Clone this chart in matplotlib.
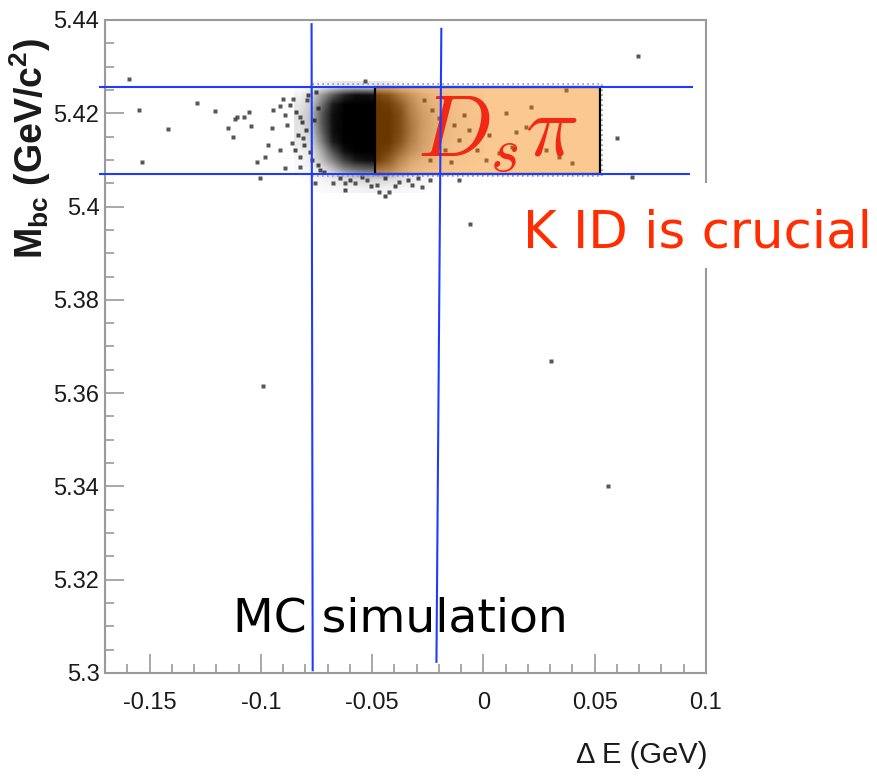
import matplotlib
matplotlib.use("Agg")
import matplotlib.pyplot as plt
import numpy as np
from matplotlib import font_manager
from matplotlib.patches import Rectangle

# tick values and labels (ROOT style, no trailing zeros)
xticks = [-0.15, -0.1, -0.05, 0.0, 0.05, 0.1]
xtick_labels = ["-0.15", "-0.1", "-0.05", "0", "0.05", "0.1"]
yticks = [5.30, 5.32, 5.34, 5.36, 5.38, 5.40, 5.42, 5.44]
ytick_labels = ["5.3", "5.32", "5.34", "5.36", "5.38", "5.4", "5.42", "5.44"]

# isolated candidates (dE, Mbc)
out_de = [-0.1592, -0.1548, -0.1287, -0.1207, -0.1417, -0.1148, -0.1117, -0.1108,
          -0.1077, -0.1054, -0.1126, -0.1045, -0.1534, -0.1018, -0.0982, -0.0969,
          -0.1005, -0.0902, -0.0857, -0.0947, -0.0915, -0.0893, -0.0951, -0.0884,
          -0.0825, -0.0915, -0.0861, -0.0825, -0.0893, -0.0825, -0.0812, -0.0794,
          -0.0677, -0.0624, -0.0579, -0.0525, -0.0467, -0.0422, -0.0377, -0.0319,
          -0.0278, -0.0242, -0.0108, -0.0758, -0.0476, -0.0534, 0.0601, 0.0668,
          0.0148, 0.0215, 0.0103, 0.0193, 0.0282, 0.0341, 0.0072, 0.0013,
          0.0130, 0.0372, 0.0399, 0.0695, -0.0059, 0.0305, 0.0560, -0.0991]
out_mbc = [5.4274, 5.4207, 5.4222, 5.4205, 5.4166, 5.4168, 5.4188, 5.4192,
           5.4192, 5.4203, 5.4149, 5.4173, 5.4096, 5.4096, 5.4106, 5.4132,
           5.4061, 5.4231, 5.4231, 5.4207, 5.4216, 5.4196, 5.4168, 5.4175,
           5.4192, 5.4121, 5.4136, 5.4106, 5.4083, 5.4085, 5.4147, 5.4228,
           5.4051, 5.4051, 5.4051, 5.4057, 5.4031, 5.4031, 5.4053, 5.4046,
           5.4042, 5.4057, 5.4057, 5.4051, 5.4046, 5.4269, 5.4147, 5.4063,
           5.4160, 5.4213, 5.4201, 5.4171, 5.4121, 5.4106, 5.4115, 5.4100,
           5.4128, 5.4250, 5.4093, 5.4323, 5.3963, 5.3669, 5.3401, 5.3615]

# candidates on the rim of the peak
rim_de = [-0.0870, -0.0843, -0.0816, -0.0799, -0.0834, -0.0807, -0.0781, -0.0848,
          -0.0772, -0.0745, -0.0790, -0.0754, -0.0736, -0.0718, -0.0763, -0.0745,
          -0.0265, -0.0233, -0.0198, -0.0162, -0.0130, -0.0206, -0.0171, -0.0108,
          -0.0085, -0.0242, -0.0144, -0.0063, -0.0027, 0.0004, 0.0027,
          -0.0646, -0.0601, -0.0547, -0.0503, -0.0444, -0.0399, -0.0341, -0.0296,
          -0.0624, -0.0444]
rim_mbc = [5.4218, 5.4203, 5.4181, 5.4164, 5.4153, 5.4132, 5.4117, 5.4121,
           5.4100, 5.4089, 5.4239, 5.4246, 5.4078, 5.4074, 5.4186, 5.4211,
           5.4228, 5.4207, 5.4190, 5.4218, 5.4175, 5.4143, 5.4121, 5.4143,
           5.4196, 5.4100, 5.4096, 5.4164, 5.4121, 5.4207, 5.4153,
           5.4061, 5.4057, 5.4063, 5.4044, 5.4061, 5.4044, 5.4057, 5.4061,
           5.4036, 5.4023]

# occupancy of the signal peak, rows from Mbc=5.404 up to 5.426 (step 0.002),
# columns from dE=-0.0825 to -0.0025 (step 0.005)
peak_extent = [-0.085, 0.0, 5.403, 5.427]
peak = [
    [0, 0, .02, .03, .04, .05, .06, .06, .05, .04, .03, .02, 0, 0, 0, 0, 0],
    [0, .03, .05, .08, .12, .15, .18, .18, .15, .12, .08, .05, .03, 0, 0, 0, 0],
    [.02, .05, .10, .25, .45, .55, .60, .60, .50, .30, .15, .10, .06, .03, .02, .01, 0],
    [.03, .08, .25, .50, .75, .90, .95, .95, .75, .45, .25, .15, .10, .05, .03, .02, .01],
    [.05, .10, .35, .70, .95, 1, 1, 1, .90, .65, .40, .25, .15, .08, .05, .03, .02],
    [.08, .15, .50, .90, 1, 1, 1, 1, 1, .80, .50, .30, .18, .10, .06, .04, .02],
    [.10, .20, .60, .95, 1, 1, 1, 1, 1, .85, .55, .30, .20, .12, .07, .05, .03],
    [.12, .25, .65, .95, 1, 1, 1, 1, 1, .85, .55, .32, .20, .12, .07, .05, .03],
    [.12, .25, .65, .95, 1, 1, 1, 1, 1, .85, .50, .30, .18, .10, .07, .04, .02],
    [.10, .20, .55, .90, 1, 1, 1, 1, .95, .75, .45, .25, .15, .10, .06, .04, .02],
    [.05, .15, .40, .65, .85, .95, .95, .90, .80, .55, .35, .20, .12, .08, .05, .03, .02],
    [0, .02, .05, .08, .10, .10, .10, .10, .08, .05, .03, .02, .01, 0, 0, 0, 0],
]

# D_s pi signal box and the cut lines
box_de = (-0.0489, 0.0525)
box_mbc = (5.4070, 5.4256)
cut_box_de = (-0.0768, 0.0535)
cut_box_mbc = (5.4065, 5.4263)
vcut_top = [(-0.0772, 5.4391), (-0.0189, 5.4381)]
vcut_bot = [(-0.0767, 5.3006), (-0.0211, 5.3024)]
hcut_y = [5.4256, 5.4070]
hcut_x = [(-0.1722, 0.0937), (-0.1722, 0.0924)]

names = {f.name for f in font_manager.fontManager.ttflist}
narrow = "Liberation Sans Narrow" if "Liberation Sans Narrow" in names else "Liberation Sans"

plt.rcParams["mathtext.fontset"] = "custom"
plt.rcParams["mathtext.rm"] = "Liberation Sans:bold"
plt.rcParams["mathtext.it"] = "Liberation Sans:bold"

fig = plt.figure(figsize=(8.78, 7.80), dpi=100)
ax = fig.add_axes([0.1196, 0.1372, 0.6845, 0.8372])

rgba = np.zeros((len(peak), len(peak[0]), 4))
rgba[..., 3] = np.array(peak)
ax.imshow(rgba, extent=peak_extent, origin="lower", aspect="auto",
          interpolation="bilinear", zorder=1)
ax.plot(out_de, out_mbc, "s", ms=2.2, color="#3a3a3a", alpha=0.85, mec="none", zorder=2)
ax.plot(rim_de, rim_mbc, "s", ms=2.4, color="#222222", alpha=0.8, mec="none", zorder=2)

# orange signal window over the points, outline on top
ax.add_patch(Rectangle((box_de[0], box_mbc[0]), box_de[1] - box_de[0], box_mbc[1] - box_mbc[0],
                       facecolor=(0.97, 0.50, 0.0), alpha=0.43, edgecolor="none", zorder=3))
ax.add_patch(Rectangle((cut_box_de[0], cut_box_mbc[0]), cut_box_de[1] - cut_box_de[0],
                       cut_box_mbc[1] - cut_box_mbc[0], fill=False, edgecolor="#9a9a9a",
                       linestyle=(0, (1, 2)), lw=1.2, zorder=3))
ax.add_patch(Rectangle((box_de[0], box_mbc[0]), box_de[1] - box_de[0], box_mbc[1] - box_mbc[0],
                       fill=False, edgecolor="black", lw=1.6, zorder=4))

blue = "#1e3cff"
for (xt, yt), (xb, yb) in zip(vcut_top, vcut_bot):
    ax.plot([xt, xb], [yt, yb], color=blue, lw=1.5, clip_on=False, zorder=6)
for y, (x0, x1) in zip(hcut_y, hcut_x):
    ax.plot([x0, x1], [y, y], color=blue, lw=1.5, clip_on=False, zorder=6)

ax.text(-0.0300, 5.4106, r"$D_s\pi$", color="#f02814", fontsize=64,
        math_fontfamily="cm", ha="left", va="baseline", zorder=5)
ax.text(0.213, 0.0628, "MC simulation", transform=ax.transAxes, fontsize=34,
        color="black", ha="left", va="baseline", zorder=5)

ax.set_xlim(-0.17, 0.1)
ax.set_ylim(5.3, 5.44)
ax.set_xticks(xticks)
ax.set_xticklabels(xtick_labels)
ax.set_yticks(yticks)
ax.set_yticklabels(ytick_labels)
ax.set_xticks(np.arange(-0.16, 0.1, 0.01), minor=True)
ax.set_yticks(np.arange(5.30, 5.44, 0.005), minor=True)

grey = "#9a9a9a"
for s in ax.spines.values():
    s.set_color(grey)
    s.set_linewidth(1.5)
ax.tick_params(which="both", direction="in", color=grey, width=1.2,
               labelcolor="#1a1a1a", labelsize=17)
ax.tick_params(which="major", length=13.5)
ax.tick_params(which="minor", length=6.5)
ax.tick_params(axis="x", pad=14)
ax.tick_params(axis="y", pad=4)
for lab in ax.get_xticklabels() + ax.get_yticklabels():
    lab.set_family(narrow)

fig.text(707 / 878, 1 - 755 / 780, r"Δ E (GeV)", family=narrow, fontsize=21,
         color="#1a1a1a", ha="right", va="center")
fig.text(30 / 878, 1 - 148 / 780, r"$\mathrm{M_{bc}}$ (GeV/c$^{\mathrm{2}}$)",
         family="Liberation Sans", weight="bold", fontsize=27, rotation=90,
         ha="center", va="center", color="#1a1a1a")

# label panel sitting over the right frame
fig.add_artist(Rectangle((0.575, 1 - 268 / 780), 0.425, 85 / 780,
                         transform=fig.transFigure, facecolor="white",
                         edgecolor="none", zorder=2))
fig.text(523 / 878, 1 - 247 / 780, "K ID is crucial", fontsize=37,
         color="#ff2d00", ha="left", va="baseline", zorder=3)

fig.savefig("out.png", dpi=100)
